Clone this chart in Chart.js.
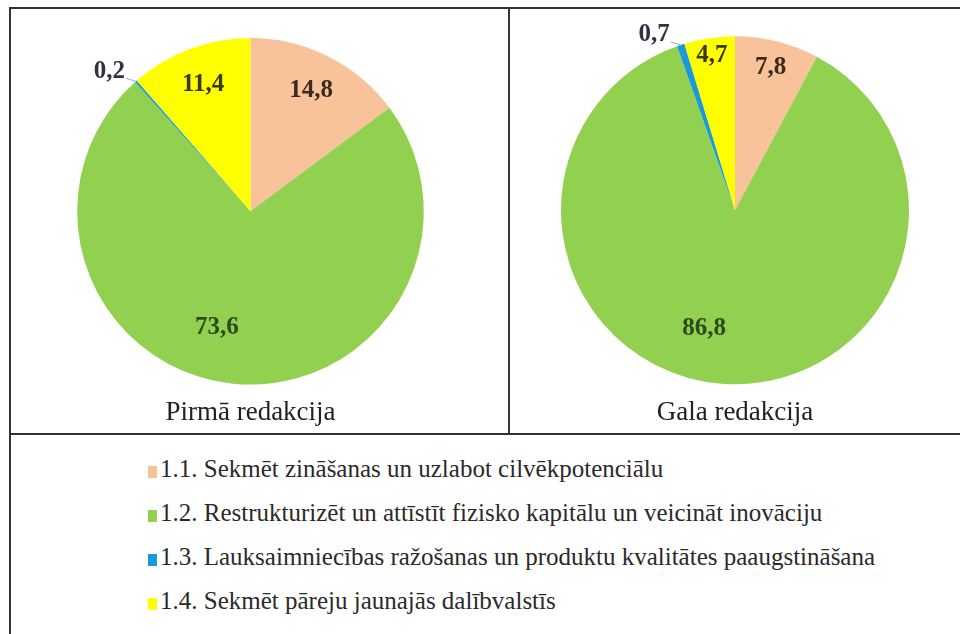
<!DOCTYPE html>
<html>
<head>
<meta charset="utf-8">
<script src="https://cdn.jsdelivr.net/npm/chart.js@4.4.0/dist/chart.umd.min.js"></script>
<style>
    html, body { margin: 0; padding: 0; background: #fff; }
    body { width: 960px; height: 634px; overflow: hidden; position: relative; }
    .frame { position: absolute; left: 9px; top: 7px; width: 960px; height: 640px; border-left: 2px solid #333; border-top: 2px solid #333; }
    .cell { position: absolute; top: 0; height: 424px; }
    #cellA { left: 0; width: 497px; border-right: 2px solid #333; }
    #cellB { left: 499px; width: 452px; }
    .bottom { position: absolute; left: 0; top: 424px; width: 960px; border-top: 2px solid #333; height: 220px; }
    #legend { list-style: none; margin: 0; padding: 0; position: absolute; left: 137px; top: 20px; }
    #legend li { height: 44px; line-height: 44px; font: 25px "Liberation Serif"; color: #2a2a2a; white-space: nowrap; }
    #legend .sw { display: inline-block; width: 9px; height: 12px; margin-right: 3px; vertical-align: -1px; }
</style>
</head>
<body>
<div class="frame">
    <div class="cell" id="cellA"><canvas id="pieA" width="497" height="424"></canvas></div>
    <div class="cell" id="cellB"><canvas id="pieB" width="452" height="424"></canvas></div>
    <div class="bottom"><ul id="legend"></ul></div>
</div>
<script>
(function () {
    function el(id) { return document.getElementById(id); }

    // <-- Data -->
    const categories = [
        '1.1. Sekmēt zināšanas un uzlabot cilvēkpotenciālu',
        '1.2. Restrukturizēt un attīstīt fizisko kapitālu un veicināt inovāciju',
        '1.3. Lauksaimniecības ražošanas un produktu kvalitātes paaugstināšana',
        '1.4. Sekmēt pāreju jaunajās dalībvalstīs'
    ];
    const firstDraft = [14.8, 73.6, 0.2, 11.4];
    const finalDraft = [7.8, 86.8, 0.7, 4.7];
    const titles = ['Pirmā redakcija', 'Gala redakcija'];

    const colors = ['#F8C29A', '#92D050', '#1B9AD8', '#FFFF00'];
    const labelColors = ['#3b2a1e', '#2c4a1c', '#2f3340', '#3a3a08'];

    function fmt(v) { return v.toFixed(1).replace('.', ','); }

    // <-- Value labels on slices (rough "best fit") -->
    const sliceLabels = {
        id: 'sliceLabels',
        afterDatasetsDraw(chart) {
            const c = chart.ctx;
            const meta = chart.getDatasetMeta(0);
            const data = chart.data.datasets[0].data;
            c.save();
            c.font = 'bold 25px "Liberation Serif"';
            c.textAlign = 'center';
            c.textBaseline = 'middle';
            meta.data.forEach((arc, i) => {
                const p = arc.getProps(['x', 'y', 'startAngle', 'endAngle', 'outerRadius']);
                let mid = (p.startAngle + p.endAngle) / 2;
                const v = data[i];
                const text = fmt(v);
                c.fillStyle = labelColors[i];
                if (v < 1) {
                    // tiny slice: label outside, left of the slice, with a short leader
                    const ox = p.x + Math.cos(mid) * p.outerRadius;
                    const oy = p.y + Math.sin(mid) * p.outerRadius;
                    const w = c.measureText(text).width;
                    const tx = ox - w / 2 - 11;
                    const ty = oy - 10;
                    c.strokeStyle = '#9ab';
                    c.lineWidth = 1;
                    c.beginPath();
                    c.moveTo(tx + w / 2 + 1, ty + 7);
                    c.lineTo(ox, oy);
                    c.stroke();
                    c.fillText(text, tx, ty);
                } else {
                    let f;
                    if (v > 50) { f = 0.7; mid += 0.18; }
                    else { f = Math.min(0.9, Math.max(0.78, 1.0 - 0.02 * v)); }
                    const r = p.outerRadius * f;
                    c.fillText(text, p.x + Math.cos(mid) * r, p.y + Math.sin(mid) * r);
                }
            });
            c.restore();
        }
    };

    function makePie(id, values, title, pad) {
        const ctx = el(id);
        if (!ctx || typeof Chart === 'undefined') return;
        new Chart(ctx, {
            type: 'pie',
            data: {
                labels: categories,
                datasets: [{ data: values, backgroundColor: colors, borderWidth: 0 }]
            },
            options: {
                responsive: false,
                animation: false,
                layout: { padding: pad },
                plugins: {
                    legend: { display: false },
                    tooltip: { enabled: false },
                    title: {
                        display: true,
                        text: title,
                        position: 'bottom',
                        color: '#222',
                        font: { family: 'Liberation Serif', size: 27, weight: 'normal', lineHeight: 1.2 },
                        padding: { top: 12, bottom: 4 }
                    }
                }
            },
            plugins: [sliceLabels]
        });
    }

    // <-- Legend -->
    function makeLegend() {
        const ul = el('legend');
        categories.forEach((name, i) => {
            const li = document.createElement('li');
            const sw = document.createElement('span');
            sw.className = 'sw';
            sw.style.background = colors[i];
            li.appendChild(sw);
            li.appendChild(document.createTextNode(name));
            ul.appendChild(li);
        });
    }

    window.addEventListener('DOMContentLoaded', function () {
        makePie('pieA', firstDraft, titles[0], { left: 66, right: 84, top: 29, bottom: 0 });
        makePie('pieB', finalDraft, titles[1], { left: 51, right: 53, top: 27, bottom: 0 });
        makeLegend();
    });
})();
</script>
</body>
</html>
